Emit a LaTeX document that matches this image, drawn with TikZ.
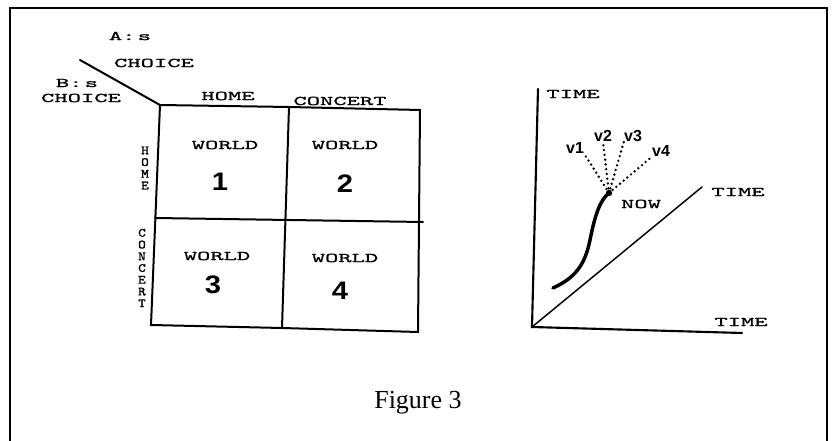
\documentclass[tikz,border=0pt]{standalone}
\usepackage{fontspec}
\setmainfont{Liberation Serif}
\newfontfamily\typew[FakeStretch=1.9, FakeBold=1.2]{Latin Modern Mono}
\newfontfamily\typev[FakeStretch=1.15, FakeBold=1.2]{Latin Modern Mono}
\newfontfamily\digits[FakeStretch=1.15]{Liberation Sans}
\newfontfamily\plainsans{Liberation Sans}
\begin{document}
\begin{tikzpicture}[x=0.75pt, y=-0.75pt, line cap=round,
  tw/.style={font=\typew\fontsize{10}{10}\selectfont, inner sep=0pt},
  tv/.style={font=\typev\fontsize{9.5}{8.8}\selectfont, align=center, inner sep=0pt},
  num/.style={font=\digits\bfseries\fontsize{19}{19}\selectfont, inner sep=0pt},
  vlab/.style={font=\plainsans\bfseries\fontsize{12}{12}\selectfont, inner sep=0pt},
  grid/.style={line width=1.5pt}]
  \useasboundingbox (0,0) rectangle (833,441);
  % frame (open at the bottom)
  \draw[line width=1.6pt] (10,441) -- (10,8) -- (827,8) -- (827,441);

  % the 2x2 table of worlds
  \coordinate (tl) at (160,105); \coordinate (tm) at (289,107); \coordinate (tr) at (420,110);
  \coordinate (ml) at (155,218); \coordinate (mr) at (423,222);
  \coordinate (bl) at (151,325); \coordinate (bm) at (282,328); \coordinate (br) at (418,332);
  \coordinate (slash) at (80,60);
  \draw[grid] (slash) -- (tl) -- (tm) -- (tr) -- (br) -- (bm) -- (bl) -- (tl);
  \draw[grid] (tm) -- (bm);
  \draw[grid] (ml) -- (mr);

  \node[tw] (achoice) at (130,36) {A:\,s};
  \node[tw] (achoice2) at (154,63) {CHOICE};
  \node[tw] (bchoice) at (77,83) {B:\,s};
  \node[tw] (bchoice2) at (81,98) {CHOICE};
  \node[tw] (colhome) at (228,96) {HOME};
  \node[tw] (colconcert) at (340,101) {CONCERT};
  \node[tv] (rowhome) at (145,168) {H\\O\\M\\E};
  \node[tv] (rowconcert) at (142,268) {C\\O\\N\\C\\E\\R\\T};

  \node[tw] (world1) at (225,145) {WORLD};
  \node[num] (n1) at (220,182) {1};
  \node[tw] (world2) at (345,145) {WORLD};
  \node[num] (n2) at (345,184) {2};
  \node[tw] (world3) at (217,256) {WORLD};
  \node[num] (n3) at (213,285) {3};
  \node[tw] (world4) at (345,258) {WORLD};
  \node[num] (n4) at (340,291) {4};

  % time branching
  \coordinate (o) at (532,327); \coordinate (ytop) at (538,89);
  \coordinate (xend) at (742,333); \coordinate (dend) at (702,187);
  \draw[line width=1.6pt] (ytop) -- (o) -- (xend);
  \draw[line width=1.1pt] (o) -- (dend);
  \node[tw] (ttop) at (573,94) {TIME};
  \node[tw] (tdiag) at (738,192) {TIME};
  \node[tw] (tbottom) at (741,322) {TIME};

  \coordinate (start) at (553,288); \coordinate (now) at (609,193);
  \draw[line width=2.6pt] (start) .. controls (575,278) and (585,265) .. (590,240)
    .. controls (595,215) and (600,200) .. (now);
  \fill (now) circle (3.2);
  \node[tw] (nowlab) at (641,204) {NOW};

  \node[vlab] (v1) at (575,148) {v1};
  \node[vlab] (v2) at (603,136) {v2};
  \node[vlab] (v3) at (633,136) {v3};
  \node[vlab] (v4) at (661,151) {v4};
  \foreach \v in {v1.south east, v2.south, v3.south west, v4.south west}
    \draw[line width=2pt, dash pattern=on 0pt off 3.6pt] (now) -- (\v);

  \node[font=\fontsize{19.5}{19.5}\selectfont] (caption) at (418,403) {Figure 3};
\end{tikzpicture}
\end{document}
